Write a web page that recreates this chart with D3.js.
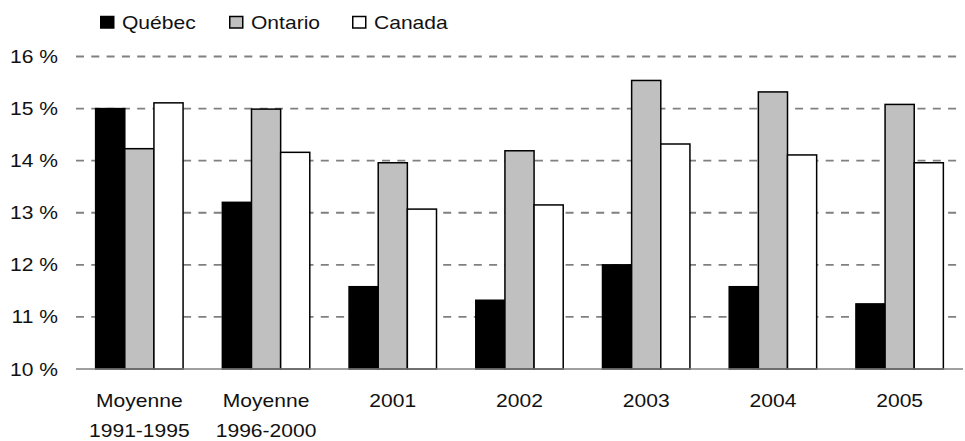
<!DOCTYPE html>
<html><head><meta charset="utf-8">
<script src="https://cdn.jsdelivr.net/npm/d3@7"></script>
<style>body{margin:0;background:#fff;} text{font-family:"Liberation Sans",Arial,sans-serif;fill:#111;}</style>
</head><body>
<svg id="chart" width="965" height="441"></svg>
<script>
const categories = [["Moyenne","1991-1995"],["Moyenne","1996-2000"],["2001"],["2002"],["2003"],["2004"],["2005"]];
const seriesNames = ["Québec","Ontario","Canada"];
const quebec  = [15.0, 13.2, 11.58, 11.32, 12.0, 11.58, 11.25];
const ontario = [14.23, 14.99, 13.96, 14.19, 15.54, 15.32, 15.08];
const canada  = [15.11, 14.16, 13.07, 13.15, 14.32, 14.11, 13.96];
const yTicks = [10, 11, 12, 13, 14, 15, 16];
const colors = ["#000000", "#c0c0c0", "#ffffff"];

(function() {
const values = [quebec, ontario, canada];
const sx = 1.17; // horizontal text stretch
const svg = d3.select("#chart");
const pLeft = 76, pRight = 963, pTop = 56.5, pBottom = 369;

const x0 = d3.scaleBand().domain(d3.range(categories.length)).range([pLeft, pRight]).paddingInner(0.31).paddingOuter(0.155);
const x1 = d3.scaleBand().domain(d3.range(seriesNames.length)).range([0, x0.bandwidth()]);
const y = d3.scaleLinear().domain([10, 16]).range([pBottom, pTop]);
const color = d3.scaleOrdinal().domain(d3.range(3)).range(colors);

// gridlines
svg.append("g").selectAll("line").data(yTicks.filter(t => t > 10)).join("line")
  .attr("x1", pLeft).attr("x2", pRight)
  .attr("y1", d => y(d)).attr("y2", d => y(d))
  .attr("stroke", "#808080").attr("stroke-width", 1.8).attr("stroke-dasharray", "8,7.3");

// y labels
svg.append("g").selectAll("text").data(yTicks).join("text")
  .attr("transform", d => `translate(58,${y(d) + 6.5}) scale(${sx},1)`)
  .attr("text-anchor", "end").attr("font-size", 18)
  .text(d => d + " %");

// bars
const groups = svg.append("g").selectAll("g").data(categories.map((c, i) => i)).join("g")
  .attr("transform", i => `translate(${x0(i)},0)`);
groups.selectAll("rect").data(i => values.map((v, s) => ({s, v: v[i]}))).join("rect")
  .attr("x", d => x1(d.s)).attr("width", x1.bandwidth())
  .attr("y", d => y(d.v)).attr("height", d => y(10) - y(d.v))
  .attr("fill", d => color(d.s)).attr("stroke", "#000").attr("stroke-width", 1.5);

// bottom axis line
svg.append("line").attr("x1", pLeft).attr("x2", pRight).attr("y1", y(10)).attr("y2", y(10))
  .attr("stroke", "#808080").attr("stroke-width", 1.5);

// x labels
const xl = svg.append("g").selectAll("g").data(categories.map((c, i) => i)).join("g");
xl.each(function(i) {
  const g = d3.select(this);
  categories[i].forEach((line, k) => {
    g.append("text")
      .attr("transform", `translate(${x0(i) + x0.bandwidth() / 2},${407 + k * 29.5}) scale(${sx},1)`)
      .attr("text-anchor", "middle").attr("font-size", 18).text(line);
  });
});

// legend
const legendX = [100, 229, 352];
const lg = svg.append("g").selectAll("g").data(seriesNames.map((n, i) => i)).join("g")
  .attr("transform", i => `translate(${legendX[i]},0)`);
lg.append("rect").attr("x", 0.75).attr("y", 16.5).attr("width", 13).attr("height", 11.5)
  .attr("fill", i => color(i)).attr("stroke", "#000").attr("stroke-width", 1.5);
lg.append("text").attr("transform", `translate(22,29) scale(${sx},1)`)
  .attr("font-size", 18).text(i => seriesNames[i]);
})();
</script>
</body></html>
